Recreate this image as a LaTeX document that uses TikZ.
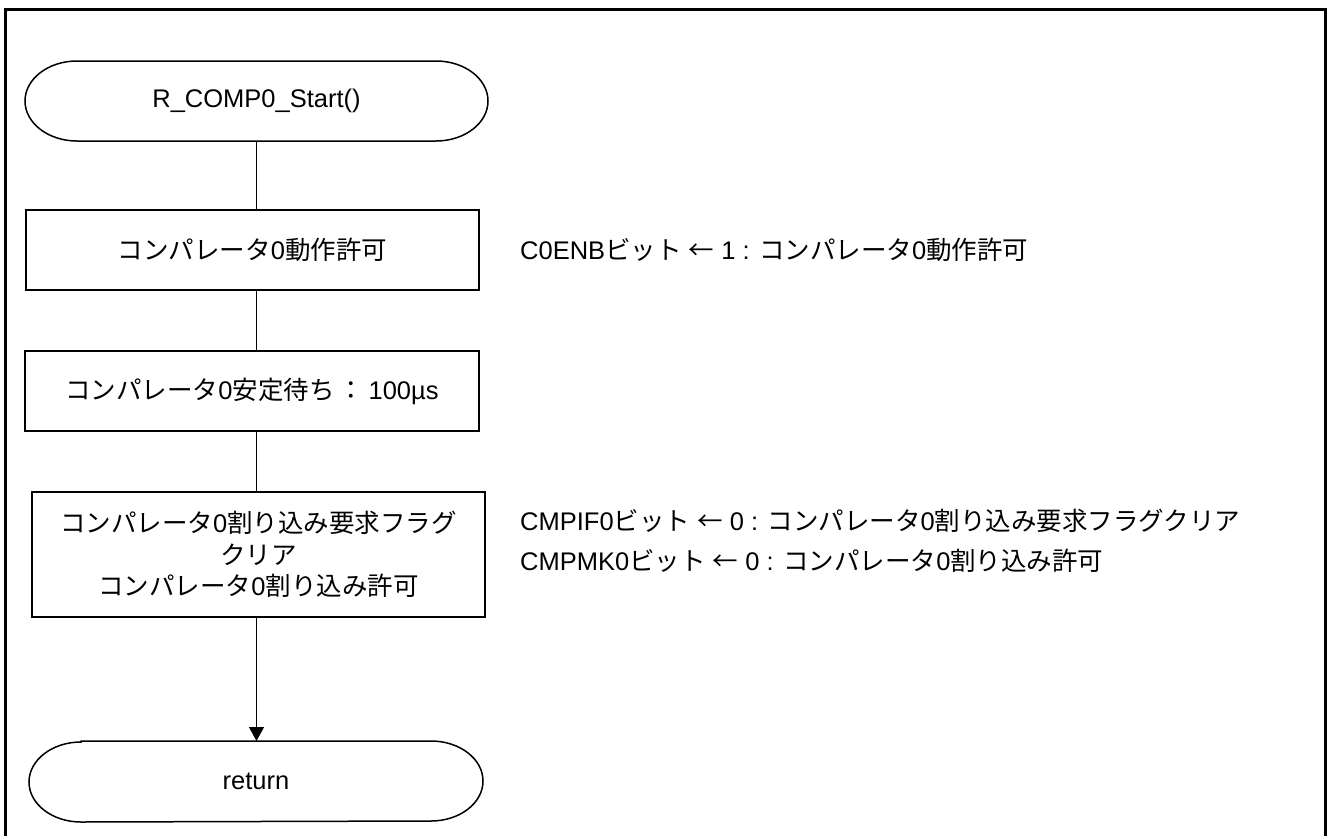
\documentclass[tikz,border=0pt]{standalone}
\usepackage{fontspec}
\setmainfont{Liberation Sans}
\newfontfamily\jpfont{Noto Sans CJK JP}
\newcommand{\J}[1]{{\jpfont #1}}
\usetikzlibrary{arrows.meta}
\newcommand{\termpath}[1]{%
  \draw[termline] ([xshift=52pt]#1.north west) -- ([xshift=-52pt]#1.north east)
    arc[start angle=90,end angle=-90,x radius=52pt,y radius=40pt]
    -- ([xshift=52pt]#1.south west)
    arc[start angle=270,end angle=90,x radius=52pt,y radius=40pt] -- cycle;}
\begin{document}
\begin{tikzpicture}[x=1pt,y=1pt,
  txt/.style={font=\fontsize{25.5}{31.5}\selectfont, text=black},
  proc/.style={txt, draw, line width=2pt, inner sep=0pt, outer sep=0pt, align=center},
  term/.style={txt, inner sep=0pt, outer sep=0pt, minimum height=80pt},
  termline/.style={line width=1.5pt},
  conn/.style={line width=1.3pt},
  note/.style={txt, anchor=base west, inner sep=0pt},
  frame/.style={line width=3pt}]
\useasboundingbox (0,0) rectangle (1329,-835);
\draw[frame] (5,-9) rectangle (1325.5,-840);

\node[term, minimum width=463pt] (start) at (256.5,-101) {R\_COMP0\_Start()};
\termpath{start}

\node[proc, minimum width=453pt, minimum height=80pt] (b1) at (252.5,-250)
  {\J{コンパレータ}0\J{動作許可}};
\node[proc, minimum width=454pt, minimum height=80pt] (b2) at (252,-391)
  {\J{コンパレータ}0\J{安定待ち}\,\J{：}\,100µs};
\node[proc, minimum width=453pt, minimum height=125pt] (b3) at (258.5,-554.5)
  {\J{コンパレータ}0\J{割り込み要求フラグ}\\\J{クリア}\\\J{コンパレータ}0\J{割り込み許可}};

\node[term, minimum width=454pt, minimum height=81pt] (ret) at (256,-781.5) {return};
\termpath{ret}

\draw[conn] (start.south) -- (start.south |- b1.north);
\draw[conn] (b1.south -| start.south) -- (b2.north -| start.south);
\draw[conn] (b2.south -| start.south) -- (b3.north -| start.south);
\draw[conn, -{Triangle[length=14pt,width=15pt]}] (b3.south -| start.south) -- (ret.north -| start.south);

\node[note] (n1) at (520,-259) {C0ENB\J{ビット} \J{←} 1 : \J{コンパレータ}0\J{動作許可}};
\node[note] (n2) at (520,-530) {CMPIF0\J{ビット} \J{←} 0 : \J{コンパレータ}0\J{割り込み要求フラグクリア}};
\node[note] (n3) at (520,-570) {CMPMK0\J{ビット} \J{←} 0 : \J{コンパレータ}0\J{割り込み許可}};
\end{tikzpicture}
\end{document}
